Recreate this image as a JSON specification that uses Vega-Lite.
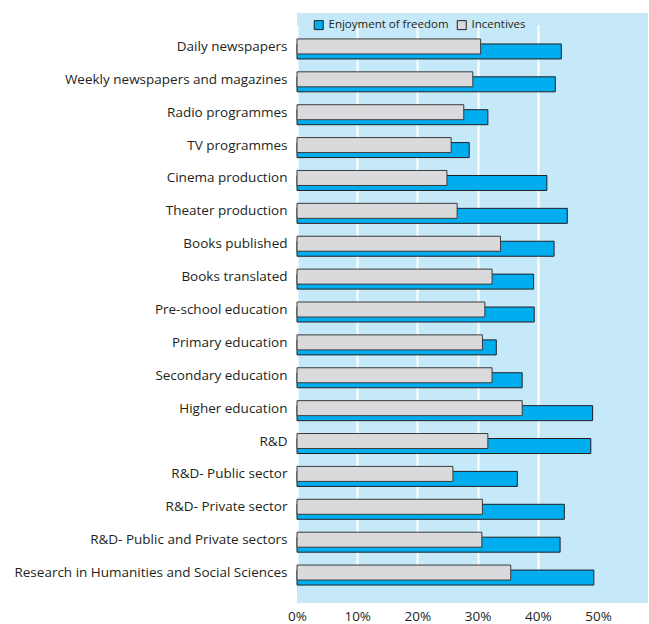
{
  "$schema": "https://vega.github.io/schema/vega-lite/v6.json",
  "autosize": {"type": "none"},
  "padding": {"left": 297, "top": 13, "right": 1, "bottom": 21},
  "width": 351,
  "height": 590,
  "background": "white",
  "config": {
    "view": {"fill": "#c6e9f9", "stroke": null},
    "font": "Open Sans"
  },
  "data": {
    "values": [
      {"cat": "Daily newspapers", "series": "Enjoyment of freedom", "v": 43.9},
      {"cat": "Daily newspapers", "series": "Incentives", "v": 30.5},
      {"cat": "Weekly newspapers and magazines", "series": "Enjoyment of freedom", "v": 42.9},
      {"cat": "Weekly newspapers and magazines", "series": "Incentives", "v": 29.2},
      {"cat": "Radio programmes", "series": "Enjoyment of freedom", "v": 31.7},
      {"cat": "Radio programmes", "series": "Incentives", "v": 27.7},
      {"cat": "TV programmes", "series": "Enjoyment of freedom", "v": 28.6},
      {"cat": "TV programmes", "series": "Incentives", "v": 25.6},
      {"cat": "Cinema production", "series": "Enjoyment of freedom", "v": 41.5},
      {"cat": "Cinema production", "series": "Incentives", "v": 24.9},
      {"cat": "Theater production", "series": "Enjoyment of freedom", "v": 44.9},
      {"cat": "Theater production", "series": "Incentives", "v": 26.6},
      {"cat": "Books published", "series": "Enjoyment of freedom", "v": 42.7},
      {"cat": "Books published", "series": "Incentives", "v": 33.8},
      {"cat": "Books translated", "series": "Enjoyment of freedom", "v": 39.3},
      {"cat": "Books translated", "series": "Incentives", "v": 32.4},
      {"cat": "Pre-school education", "series": "Enjoyment of freedom", "v": 39.4},
      {"cat": "Pre-school education", "series": "Incentives", "v": 31.2},
      {"cat": "Primary education", "series": "Enjoyment of freedom", "v": 33.1},
      {"cat": "Primary education", "series": "Incentives", "v": 30.8},
      {"cat": "Secondary education", "series": "Enjoyment of freedom", "v": 37.4},
      {"cat": "Secondary education", "series": "Incentives", "v": 32.4},
      {"cat": "Higher education", "series": "Enjoyment of freedom", "v": 49.1},
      {"cat": "Higher education", "series": "Incentives", "v": 37.4},
      {"cat": "R&D", "series": "Enjoyment of freedom", "v": 48.8},
      {"cat": "R&D", "series": "Incentives", "v": 31.7},
      {"cat": "R&D- Public sector", "series": "Enjoyment of freedom", "v": 36.6},
      {"cat": "R&D- Public sector", "series": "Incentives", "v": 25.9},
      {"cat": "R&D- Private sector", "series": "Enjoyment of freedom", "v": 44.4},
      {"cat": "R&D- Private sector", "series": "Incentives", "v": 30.8},
      {"cat": "R&D- Public and Private sectors", "series": "Enjoyment of freedom", "v": 43.7},
      {"cat": "R&D- Public and Private sectors", "series": "Incentives", "v": 30.7},
      {"cat": "Research in Humanities and Social Sciences", "series": "Enjoyment of freedom", "v": 49.3},
      {"cat": "Research in Humanities and Social Sciences", "series": "Incentives", "v": 35.5}
    ]
  },
  "encoding": {
    "y": {
      "field": "cat",
      "type": "nominal",
      "sort": null,
      "scale": {"range": [19.5, 578.5], "paddingInner": 0, "paddingOuter": 0},
      "axis": {
        "title": null,
        "domain": false,
        "ticks": false,
        "labelPadding": 10,
        "labelFontSize": 13.5,
        "labelColor": "#231f20",
        "labelFont": "Open Sans",
        "labelLimit": 400,
        "labelBaseline": "middle",
        "labelOffset": -2
      }
    },
    "x": {
      "field": "v",
      "type": "quantitative",
      "scale": {"domain": [0, 58.3], "nice": false, "zero": true},
      "axis": {
        "title": null,
        "values": [0, 10, 20, 30, 40, 50],
        "labelExpr": "datum.value + '%'",
        "labelFlush": false,
        "domain": false,
        "ticks": false,
        "grid": true,
        "gridColor": {"condition": {"test": "datum.value === 50", "value": "transparent"}, "value": "white"},
        "gridWidth": 2,
        "labelPadding": 6,
        "labelFontSize": 13.5,
        "labelColor": "#231f20",
        "labelFont": "Open Sans"
      }
    },
    "color": {
      "field": "series",
      "type": "nominal",
      "scale": {"domain": ["Enjoyment of freedom", "Incentives"], "range": ["#00aeef", "#dadadc"]},
      "legend": {
        "title": null,
        "orient": "none",
        "direction": "horizontal",
        "legendX": 16,
        "legendY": 6,
        "symbolType": "square",
        "symbolSize": 81,
        "symbolStrokeColor": "#231f20",
        "symbolStrokeWidth": 1,
        "symbolOpacity": 1,
        "labelFontSize": 11.5,
        "labelColor": "#231f20",
        "labelFont": "Open Sans",
        "columnPadding": 6,
        "labelOffset": 4
      }
    }
  },
  "layer": [
    {
      "transform": [{"filter": "datum.series === 'Enjoyment of freedom'"}],
      "mark": {"type": "bar", "height": 15, "yOffset": 2.5, "stroke": "#231f20", "strokeWidth": 1, "opacity": 1}
    },
    {
      "transform": [{"filter": "datum.series === 'Incentives'"}],
      "mark": {"type": "bar", "height": 15, "yOffset": -2.5, "stroke": "#3a3a3a", "strokeWidth": 1, "opacity": 1}
    }
  ]
}
